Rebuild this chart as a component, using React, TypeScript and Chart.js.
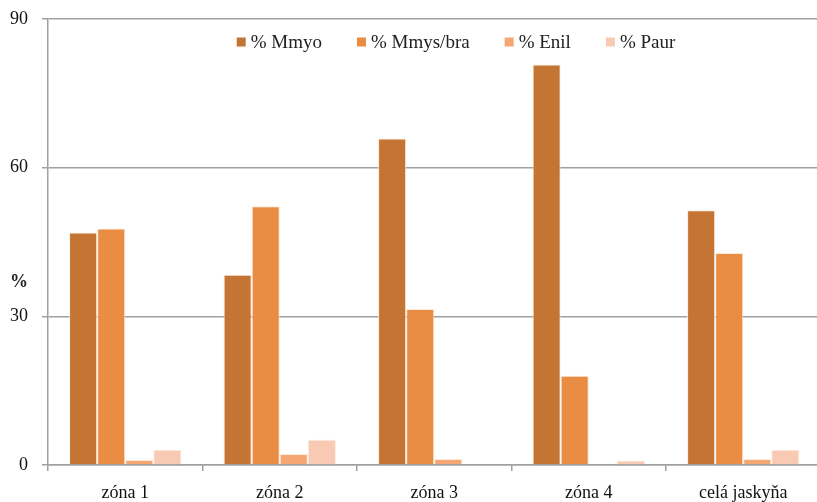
import React, { useEffect, useRef } from "react";
import { Chart, registerables } from "chart.js";

Chart.register(...registerables);

const categories = ["zóna 1", "zóna 2", "zóna 3", "zóna 4", "celá jaskyňa"];
const seriesNames = ["% Mmyo", "% Mmys/bra", "% Enil", "% Paur"];
const mmyo = [46.9, 38.4, 65.9, 80.8, 51.4];
const mmys = [47.7, 52.2, 31.5, 18.0, 42.8];
const enil = [1.0, 2.2, 1.2, 0, 1.2];
const paur = [3.1, 5.1, 0, 0.9, 3.1];
const seriesColors = ["#C47533", "#E88D43", "#F5A673", "#F8CAB3"];
const yTicks = [0, 30, 60, 90];
const yTitle = "%";

const FONT = '"Liberation Serif", "Times New Roman", serif';
const GRID = "#a0a0a0";

const overlayPlugin = {
  id: "overlay",
  afterDraw(chart: any) {
    const ctx = chart.ctx;
    const area = chart.chartArea;
    ctx.save();
    // y-axis title (horizontal)
    ctx.font = `bold 18px ${FONT}`;
    ctx.fillStyle = "#222";
    ctx.textAlign = "center";
    ctx.textBaseline = "middle";
    ctx.fillText(yTitle, area.left - 29, area.top + (area.bottom - area.top) * 0.59);

    // legend
    ctx.font = `19px ${FONT}`;
    const box = 9;
    const gapBox = 5;
    const gapItem = 35;
    const items = chart.data.datasets.map((d: any) => ({
      label: d.label,
      color: d.backgroundColor,
      w: ctx.measureText(d.label).width,
    }));
    const total =
      items.reduce((s: number, it: any) => s + box + gapBox + it.w, 0) +
      gapItem * (items.length - 1);
    let x = 456 - total / 2;
    const y = 42;
    ctx.textAlign = "left";
    items.forEach((it: any) => {
      ctx.fillStyle = it.color;
      ctx.fillRect(x, y - box / 2, box, box);
      x += box + gapBox;
      ctx.fillStyle = "#222";
      ctx.fillText(it.label, x, y + 1);
      x += it.w + gapItem;
    });
    ctx.restore();
  },
};

export default function App() {
  const ref = useRef<HTMLCanvasElement | null>(null);
  useEffect(() => {
    document.body.style.margin = "0";
    if (!ref.current) return;
    const values = [mmyo, mmys, enil, paur];
    const chart = new Chart(ref.current, {
      type: "bar",
      data: {
        labels: categories,
        datasets: seriesNames.map((name, i) => ({
          label: name,
          data: values[i],
          backgroundColor: seriesColors[i],
          borderColor: "rgba(252,232,214,0.9)",
          borderWidth: 1,
          categoryPercentage: 0.727,
          barPercentage: 1.0,
        })),
      },
      options: {
        responsive: false,
        animation: false,
        layout: { padding: { top: 19, right: 1.5, left: 0, bottom: 0 } },
        plugins: {
          legend: { display: false },
          tooltip: { enabled: false },
        },
        scales: {
          x: {
            offset: true,
            grid: {
              offset: true,
              drawOnChartArea: false,
              drawTicks: true,
              tickLength: 6,
              color: GRID,
              lineWidth: 1.5,
            },
            border: { display: true, color: GRID, width: 1.5 },
            ticks: {
              padding: 11,
              color: "#111",
              font: { family: FONT, size: 18 },
            },
            afterFit: (s: any) => {
              s.height = 37;
              s.paddingLeft = 0;
              s.paddingRight = 0;
            },
          },
          y: {
            min: 0,
            max: 90,
            afterBuildTicks: (s: any) => {
              s.ticks = yTicks.map((v) => ({ value: v }));
            },
            grid: {
              color: GRID,
              lineWidth: 1.5,
              drawTicks: true,
              tickLength: 6,
            },
            border: { display: true, color: GRID, width: 1.5 },
            ticks: {
              padding: 14,
              color: "#111",
              font: { family: FONT, size: 18 },
            },
            afterFit: (s: any) => {
              s.width = 48;
              s.paddingTop = 0;
              s.paddingBottom = 0;
            },
          },
        },
      },
      plugins: [overlayPlugin],
    });
    return () => chart.destroy();
  }, []);
  return (
    <div style={{ width: 817, height: 502, overflow: "hidden", position: "relative", background: "#fff" }}>
      <canvas ref={ref} width={822} height={502} style={{ display: "block" }} />
    </div>
  );
}
